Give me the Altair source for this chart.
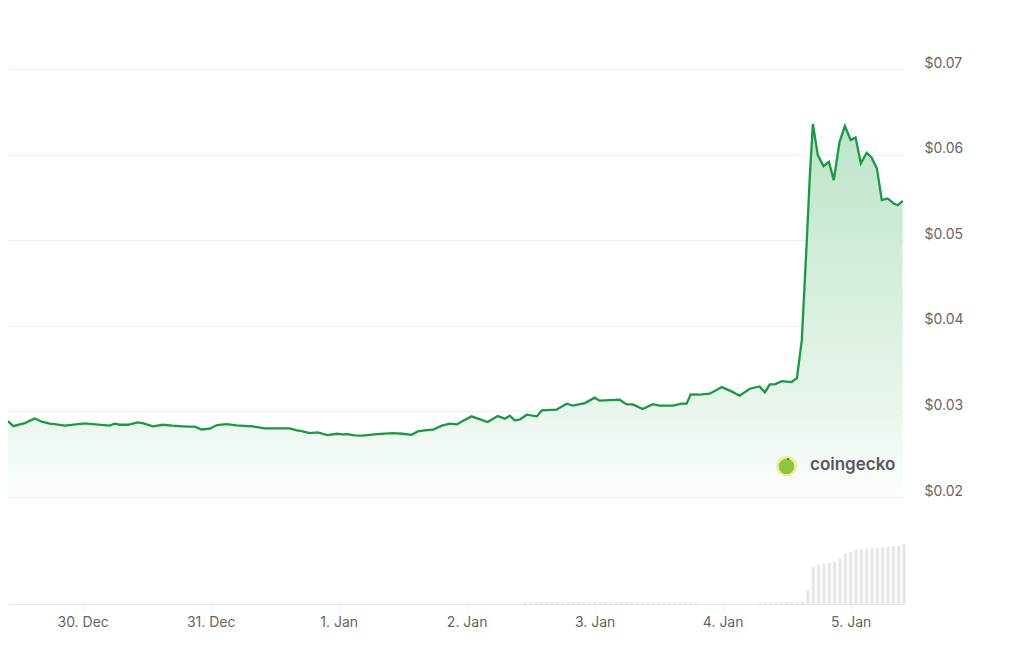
import altair as alt
import pandas as pd

# ---- price series (USD) ----
price_time = [
    "2024-12-29T10:00", "2024-12-29T11:00", "2024-12-29T13:10", "2024-12-29T15:00", "2024-12-29T16:20",
    "2024-12-29T17:50", "2024-12-29T18:45", "2024-12-29T20:40", "2024-12-30T00:20", "2024-12-30T05:00",
    "2024-12-30T06:00", "2024-12-30T07:00", "2024-12-30T08:30", "2024-12-30T10:20", "2024-12-30T11:15",
    "2024-12-30T13:10", "2024-12-30T15:00", "2024-12-30T16:50", "2024-12-30T19:30", "2024-12-30T21:00",
    "2024-12-30T22:20", "2024-12-30T23:50", "2024-12-31T01:10", "2024-12-31T03:00", "2024-12-31T04:50",
    "2024-12-31T07:50", "2024-12-31T10:10", "2024-12-31T14:50", "2024-12-31T16:10", "2024-12-31T17:05",
    "2024-12-31T18:35", "2024-12-31T20:05", "2024-12-31T21:55", "2024-12-31T23:40", "2025-01-01T00:45",
    "2025-01-01T01:40", "2025-01-01T03:00", "2025-01-01T04:30", "2025-01-01T07:10", "2025-01-01T10:10",
    "2025-01-01T12:00", "2025-01-01T13:40", "2025-01-01T14:50", "2025-01-01T16:30", "2025-01-01T17:40",
    "2025-01-01T19:20", "2025-01-01T20:50", "2025-01-01T22:10", "2025-01-01T23:15", "2025-01-02T00:55",
    "2025-01-02T03:55", "2025-01-02T05:50", "2025-01-02T07:10", "2025-01-02T08:05", "2025-01-02T09:00",
    "2025-01-02T09:55", "2025-01-02T11:15", "2025-01-02T13:10", "2025-01-02T14:05", "2025-01-02T16:50",
    "2025-01-02T18:45", "2025-01-02T19:55", "2025-01-02T22:10", "2025-01-03T00:00", "2025-01-03T00:55",
    "2025-01-03T04:40", "2025-01-03T06:00", "2025-01-03T07:10", "2025-01-03T09:00", "2025-01-03T10:55",
    "2025-01-03T12:10", "2025-01-03T14:40", "2025-01-03T16:20", "2025-01-03T17:15", "2025-01-03T18:00",
    "2025-01-03T19:40", "2025-01-03T21:35", "2025-01-03T23:50", "2025-01-04T01:40", "2025-01-04T03:10",
    "2025-01-04T05:05", "2025-01-04T06:55", "2025-01-04T07:55", "2025-01-04T08:50", "2025-01-04T09:45",
    "2025-01-04T11:05", "2025-01-04T12:55", "2025-01-04T13:55", "2025-01-04T14:50", "2025-01-04T15:45",
    "2025-01-04T16:20", "2025-01-04T16:55", "2025-01-04T17:50", "2025-01-04T18:55", "2025-01-04T19:55",
    "2025-01-04T20:50", "2025-01-04T21:55", "2025-01-04T22:55", "2025-01-05T00:00", "2025-01-05T00:55",
    "2025-01-05T01:55", "2025-01-05T03:00", "2025-01-05T03:55", "2025-01-05T04:55", "2025-01-05T05:50",
    "2025-01-05T06:55", "2025-01-05T08:05", "2025-01-05T08:50", "2025-01-05T09:45",
]
price_value = [
    0.02887, 0.02828, 0.02863, 0.02918, 0.02880,
    0.02856, 0.02851, 0.02833, 0.02860, 0.02833,
    0.02856, 0.02844, 0.02844, 0.02871, 0.02863,
    0.02825, 0.02844, 0.02833, 0.02821, 0.02821,
    0.02789, 0.02798, 0.02840, 0.02851, 0.02836,
    0.02825, 0.02801, 0.02801, 0.02778, 0.02770,
    0.02746, 0.02754, 0.02723, 0.02739, 0.02731,
    0.02735, 0.02719, 0.02716, 0.02735, 0.02746,
    0.02739, 0.02727, 0.02766, 0.02781, 0.02786,
    0.02833, 0.02856, 0.02848, 0.02887, 0.02942,
    0.02875, 0.02945, 0.02915, 0.02950, 0.02895,
    0.02903, 0.02961, 0.02942, 0.03012, 0.03020,
    0.03090, 0.03067, 0.03097, 0.03160, 0.03125,
    0.03137, 0.03082, 0.03082, 0.03027, 0.03085,
    0.03067, 0.03067, 0.03090, 0.03090, 0.03199,
    0.03195, 0.03207, 0.03284, 0.03234, 0.03184,
    0.03265, 0.03292, 0.03222, 0.03316, 0.03316,
    0.03354, 0.03343, 0.03389, 0.03830, 0.04961,
    0.05740, 0.06357, 0.05994, 0.05865, 0.05916,
    0.05702, 0.06150, 0.06333, 0.06170, 0.06201,
    0.05897, 0.06021, 0.05967, 0.05839, 0.05468,
    0.05488, 0.05429, 0.05409, 0.05460,
]

# ---- volume series (relative units) ----
vol_time = [
    "2025-01-02T11:00", "2025-01-02T12:00", "2025-01-02T13:00", "2025-01-02T14:00", "2025-01-02T15:00",
    "2025-01-02T16:00", "2025-01-02T17:00", "2025-01-02T18:00", "2025-01-02T19:00", "2025-01-02T20:00",
    "2025-01-02T21:00", "2025-01-02T22:00", "2025-01-02T23:00", "2025-01-03T00:00", "2025-01-03T01:00",
    "2025-01-03T02:00", "2025-01-03T03:00", "2025-01-03T04:00", "2025-01-03T05:00", "2025-01-03T06:00",
    "2025-01-03T07:00", "2025-01-03T08:00", "2025-01-03T09:00", "2025-01-03T10:00", "2025-01-03T11:00",
    "2025-01-03T12:00", "2025-01-03T13:00", "2025-01-03T14:00", "2025-01-03T15:00", "2025-01-03T16:00",
    "2025-01-03T17:00", "2025-01-03T18:00", "2025-01-03T19:00",
    "2025-01-04T07:00", "2025-01-04T08:00", "2025-01-04T09:00", "2025-01-04T10:00", "2025-01-04T11:00",
    "2025-01-04T12:00", "2025-01-04T13:00", "2025-01-04T14:00", "2025-01-04T15:00",
    "2025-01-04T16:00", "2025-01-04T17:00", "2025-01-04T18:00", "2025-01-04T19:00", "2025-01-04T20:00",
    "2025-01-04T21:00", "2025-01-04T22:00", "2025-01-04T23:00", "2025-01-05T00:00", "2025-01-05T01:00",
    "2025-01-05T02:00", "2025-01-05T03:00", "2025-01-05T04:00", "2025-01-05T05:00", "2025-01-05T06:00",
    "2025-01-05T07:00", "2025-01-05T08:00", "2025-01-05T09:00", "2025-01-05T10:00",
]
vol_value = [
    1.5, 1.5, 2.0, 2.0, 2.0,
    2.0, 2.0, 2.5, 2.0, 2.0,
    2.0, 2.0, 2.5, 2.0, 2.0,
    2.0, 2.5, 2.0, 2.0, 2.0,
    2.0, 1.5, 1.5, 1.5, 1.5,
    1.5, 1.5, 1.5, 1.5, 1.5,
    2.0, 1.5, 1.5,
    1.5, 1.5, 1.5, 1.5, 2.0,
    2.0, 2.0, 2.5, 2.5,
    14.0, 37.0, 39.0, 40.5, 41.3,
    42.3, 45.7, 50.7, 52.0, 54.0,
    54.7, 55.3, 56.3, 56.3, 56.7,
    57.3, 58.0, 58.0, 59.7,
]

price_ticks = [0.02, 0.03, 0.04, 0.05, 0.06, 0.07]
day_ticks = [
    alt.DateTime(year=2024, month=12, date=30),
    alt.DateTime(year=2024, month=12, date=31),
    alt.DateTime(year=2025, month=1, date=1),
    alt.DateTime(year=2025, month=1, date=2),
    alt.DateTime(year=2025, month=1, date=3),
    alt.DateTime(year=2025, month=1, date=4),
    alt.DateTime(year=2025, month=1, date=5),
]
brand_label = ["coingecko"]

price_df = pd.DataFrame({"time": price_time, "price": price_value})
vol_df = pd.DataFrame({"time": vol_time, "volume": vol_value})
brand_df = pd.DataFrame({"label": brand_label})

FONT = "Inter"
LINE_GREEN = "#189a45"

x_enc = alt.X(
    "time:T",
    scale=alt.Scale(domain=[alt.DateTime(year=2024, month=12, date=29, hours=10),
                            alt.DateTime(year=2025, month=1, date=5, hours=10)],
                    padding=0, nice=False),
    axis=alt.Axis(values=day_ticks, format="%-d. %b", title=None, grid=False,
                  domainColor="#e6e6e6", tickColor="#ececec", tickSize=8,
                  labelPadding=3, labelFontSize=14, labelColor="#666666",
                  labelFont=FONT),
)

y_price = alt.Y(
    "price:Q",
    scale=alt.Scale(domain=[0.0075, 0.07], nice=False, zero=False),
    axis=alt.Axis(orient="right", values=price_ticks, title=None,
                  labelExpr="'$' + format(datum.value, '.2f')",
                  grid=True, gridColor="#efefef", domain=False, ticks=False,
                  labelPadding=20, labelFontSize=14, labelColor="#666666",
                  labelFont=FONT, labelBaseline="alphabetic", labelOffset=-2),
)

gradient = alt.Gradient(
    gradient="linear", x1=0, y1=0, x2=0, y2=1,
    stops=[
        alt.GradientStop(color="#bce5c8", offset=0),
        alt.GradientStop(color="#d6efdd", offset=0.45),
        alt.GradientStop(color="#eaf6ed", offset=0.78),
        alt.GradientStop(color="#fbfefc", offset=1),
    ],
)

area = alt.Chart(price_df).mark_area(color=gradient, interpolate="linear").encode(
    x=x_enc, y=y_price, y2=alt.datum(0.02)
)
line = alt.Chart(price_df).mark_line(color=LINE_GREEN, strokeWidth=2.3, interpolate="linear").encode(
    x=x_enc, y=y_price
)
price_layer = alt.layer(area, line)

bars = alt.Chart(vol_df).mark_bar(size=3, color="#e4e6eb").encode(
    x=x_enc,
    y=alt.Y("volume:Q", scale=alt.Scale(domain=[0, 535], nice=False, padding=0), axis=None),
)

logo_ring = alt.Chart(brand_df).mark_point(filled=True, shape="circle", size=430,
                                            color="#f1eb8e", opacity=1).encode(
    x=alt.value(778.5), y=alt.value(397))
logo_body = alt.Chart(brand_df).mark_point(filled=True, shape="circle", size=240,
                                            color="#8cc63f", opacity=1).encode(
    x=alt.value(778.5), y=alt.value(397.5))
logo_eye = alt.Chart(brand_df).mark_point(filled=True, shape="circle", size=5,
                                           color="#3d6e1e", opacity=1).encode(
    x=alt.value(780), y=alt.value(390))
logo_text = alt.Chart(brand_df).mark_text(align="left", baseline="middle", fontSize=17,
                                           fontWeight=600, color="#585858", font=FONT).encode(
    x=alt.value(802), y=alt.value(396), text="label:N")

chart = (
    alt.layer(price_layer, bars, logo_ring, logo_body, logo_eye, logo_text)
    .resolve_scale(y="independent")
    .properties(width=896, height=535,
                autosize=alt.AutoSizeParams(type="none"),
                padding={"left": 0, "top": 61, "right": 90, "bottom": 30},
                background="white")
    .configure_view(stroke=None)
)

chart.save("out.html", embed_options={"renderer": "svg", "actions": False})
